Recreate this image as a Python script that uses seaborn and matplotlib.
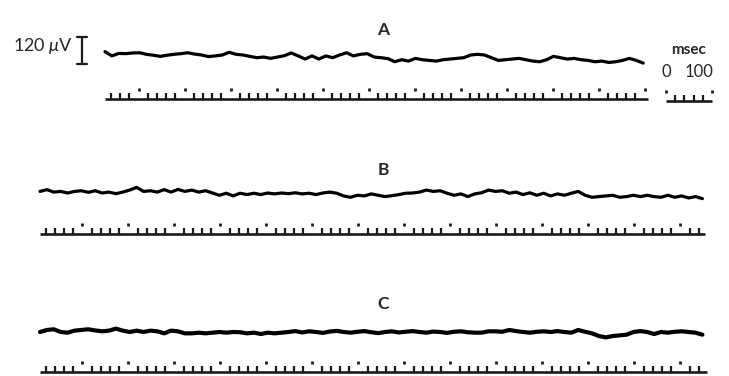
import numpy as np
import pandas as pd
import matplotlib
matplotlib.use('Agg')
import matplotlib.pyplot as plt
import seaborn as sns

STEP = 15  # ms between the values

# recorded potential in microvolts (upward positive), one value every STEP ms
trace_a = [15, -4, 7, 6, 9, 10, 3, -1, -6, -1, 3, 6, 10, 4, 0, -7, -4, 0, 12, 3,
           0, -6, -12, -9, -15, -9, -3, 9, -4, -18, -4, -18, -4, -12, 0, 10, -4, 3, 6, -9,
           -12, -16, -30, -21, -27, -15, -21, -24, -27, -21, -18, -15, -12, 0, 3, 0, -12, -24, -21, -18,
           -15, -21, -27, -30, -21, -6, -12, -18, -15, -21, -24, -30, -27, -33, -30, -24, -15, -24, -36]
trace_b = [7, 15, 4, 7, 0, 7, 10, 3, 10, 0, 4, -3, 4, 13, 25, 7, 10, 4, 15, 4,
           16, 7, 13, 4, 10, 0, -10, -1, -13, -1, -7, -1, -7, 0, -4, 0, -3, 1, -4, -1,
           -7, 0, 4, -1, -13, -19, -10, -13, -4, -10, -16, -12, -7, -1, 0, 4, 13, 7, 10, -1,
           -10, -4, -16, -4, 1, 13, 7, 10, -1, 4, -7, 1, -10, -1, -13, -4, -10, -1, 7, -10,
           -19, -16, -13, -10, -19, -16, -10, -16, -10, -16, -19, -10, -19, -13, -22, -16, -25]
trace_c = [0, 9, 12, 0, -3, 6, 9, 12, 7, 3, 6, 15, 6, 0, 6, 0, 6, 3, -6, 6,
           3, -6, -6, -3, -6, -3, 0, -3, 0, -1, -6, -3, -9, -3, -6, -3, 0, 4, -2, 3,
           0, -4, 2, 5, 0, -3, 1, 4, -1, -5, 0, 3, -2, 1, 4, 0, -3, 2, 0, -4,
           1, 3, -1, -3, -3, 3, 3, 1, 9, 4, 0, -3, 1, 3, 0, 4, 0, -3, 9, 1,
           -6, -18, -24, -18, -15, -12, 0, 4, 0, -9, 0, -3, 1, 3, 0, -3, -12]
traces = [trace_a, trace_b, trace_c]
labels = ['A', 'B', 'C']

# time marker rows under each record: length (ms) and time of the first 100 ms mark
marker_len = [1180, 1445, 1450]
marker_first = [73, 92, 92]
TICK_MS = 20
DOT_MS = 100

scale_uv = 120
scale_ms = [0, 100]

# page geometry in pixels
W, H = 729, 376
PX_MS = 0.46
UV_PX = 4.44
x0 = [105, 40, 40]
trace_y = [55, 193, 332]
mark_y = [99, 234, 372]
label_y = [30, 170, 304]
trace_lw = [2.3, 2.3, 3.0]


def px_axes(fig, left, top, width, height):
    ax = fig.add_axes([left / W, 1 - (top + height) / H, width / W, height / H])
    ax.set_axis_off()
    return ax


def time_marks(ax, length, first):
    t = np.arange(first % TICK_MS, length + 1, TICK_MS)
    dots = (t - first) % DOT_MS == 0
    ax.plot([0, length], [0, 0], color='k', lw=1.9, solid_capstyle='butt')
    ax.vlines(t[~dots], 0, 6.5, color='k', lw=1.6)
    ax.vlines(t[dots], 8.5, 11, color='k', lw=2.0)


sns.set_theme(style='white')
plt.rcParams['font.family'] = ['Lato', 'DejaVu Sans']
plt.rcParams['mathtext.fontset'] = 'custom'
plt.rcParams['mathtext.it'] = 'Lato:italic'
plt.rcParams['mathtext.rm'] = 'Lato'

fig = plt.figure(figsize=(W / 100, H / 100), dpi=100)
fig.patch.set_facecolor('white')

for i in range(3):
    v = traces[i]
    df = pd.DataFrame({'ms': np.arange(len(v)) * STEP, 'uv': v})
    span = marker_len[i]
    lim = (-10 / PX_MS, span + 10 / PX_MS)

    ax = px_axes(fig, x0[i] - 10, trace_y[i] - 30, span * PX_MS + 20, 60)
    sns.lineplot(data=df, x='ms', y='uv', ax=ax, color='black', lw=trace_lw[i])
    ax.set_xlim(lim)
    ax.set_ylim(-30 * UV_PX, 30 * UV_PX)

    mk = px_axes(fig, x0[i] - 10, mark_y[i] - 16, span * PX_MS + 20, 20)
    mk.set_xlim(lim)
    mk.set_ylim(-4, 16)
    time_marks(mk, span, marker_first[i])

    fig.text(383 / W, 1 - label_y[i] / H, labels[i], ha='center', va='center',
             fontsize=12.5, fontweight='bold')

# voltage calibration
sb = px_axes(fig, 72, 15, 20, 55)
sb.set_xlim(-10, 10)
sb.set_ylim(-6 * UV_PX, 49 * UV_PX)
sb.plot([0, 0], [0, scale_uv], color='k', lw=1.6)
sb.plot([-5, 5], [0, 0], color='k', lw=1.6)
sb.plot([-5, 5], [scale_uv, scale_uv], color='k', lw=1.6)
fig.text(73 / W, 1 - 46 / H, f'{scale_uv} $\\mu$V', ha='right', va='center',
         fontsize=13)

# time calibration
tc = px_axes(fig, 656, 36, 65, 68)
tc.set_xlim(-10 / PX_MS, 55 / PX_MS)
tc.set_ylim(-3, 65)
time_marks(tc, scale_ms[1], scale_ms[0])
tc.text(scale_ms[0], 29, str(scale_ms[0]), ha='center', va='center', fontsize=12)
tc.text(scale_ms[1] + 4, 29, str(scale_ms[1]), ha='right', va='center', fontsize=12)
tc.text(sum(scale_ms) / 2, 51, 'msec', ha='center', va='center', fontsize=11,
        fontweight='bold')

fig.savefig('out.png', dpi=100, facecolor='white')
